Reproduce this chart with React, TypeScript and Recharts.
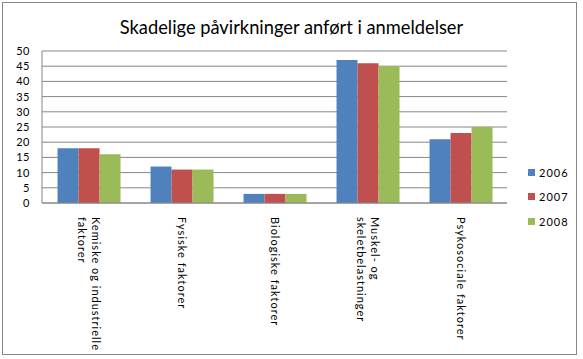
import React from 'react';
import { BarChart, Bar, XAxis, YAxis, CartesianGrid } from 'recharts';

const categories = [
  'Kemiske og industrielle faktorer',
  'Fysiske faktorer',
  'Biologiske faktorer',
  'Muskel- og skeletbelastninger',
  'Psykosociale faktorer',
];
const categoryLines = [
  ['Kemiske og industrielle', 'faktorer'],
  ['Fysiske faktorer'],
  ['Biologiske faktorer'],
  ['Muskel- og', 'skeletbelastninger'],
  ['Psykosociale faktorer'],
];
const values2006 = [18, 12, 3, 47, 21];
const values2007 = [18, 11, 3, 46, 23];
const values2008 = [16, 11, 3, 45, 25];
const yTicks = [0, 5, 10, 15, 20, 25, 30, 35, 40, 45, 50];
const seriesNames = ['2006', '2007', '2008'];
const seriesColors = ['#4F81BD', '#C0504D', '#9BBB59'];
const title = 'Skadelige påvirkninger anført i anmeldelser';

const data = categories.map((c, i) => ({
  name: c,
  '2006': values2006[i],
  '2007': values2007[i],
  '2008': values2008[i],
}));

const FONT = 'Lato, "Open Sans", sans-serif';

const XTick = (props: any) => {
  const { x, y, index } = props;
  const lines = categoryLines[index] || [];
  const lh = 14;
  const n = lines.length;
  return (
    <g transform={`translate(${x},${y})`}>
      <text
        transform="rotate(90)"
        textAnchor="start"
        fontSize={11}
        fontFamily={FONT}
        fill="#000"
        style={{ letterSpacing: '1px' }}
      >
        {lines.map((l, i) => (
          <tspan key={i} x={0} y={(i - (n - 1) / 2) * lh} dy="0.35em">
            {l}
          </tspan>
        ))}
      </text>
    </g>
  );
};

export default function App() {
  return (
    <div style={{ position: 'absolute', left: 0, top: 0, width: 583, height: 359, background: '#fff' }}>
      <div
        style={{
          position: 'absolute',
          left: 2,
          top: 2,
          width: 575,
          height: 353,
          border: '1px solid #868686',
          boxSizing: 'border-box',
        }}
      />
      <div
        style={{
          position: 'absolute',
          left: 0,
          top: 15,
          width: 583,
          textAlign: 'center',
          fontFamily: FONT,
          fontSize: 18.3,
          color: '#000',
          lineHeight: '24px',
        }}
      >
        {title}
      </div>
      <div style={{ position: 'absolute', left: 0, top: 0 }}>
        <BarChart
          width={583}
          height={359}
          data={data}
          margin={{ top: 51, right: 76, left: 0, bottom: 0 }}
          barCategoryGap="16.7%"
          barGap={0}
        >
          <CartesianGrid vertical={false} stroke="#868686" strokeWidth={1} />
          <XAxis
            dataKey="name"
            height={156}
            interval={0}
            tickLine={false}
            tickSize={0}
            tickMargin={14}
            axisLine={{ stroke: '#868686' }}
            tick={<XTick />}
          />
          <YAxis
            width={42}
            domain={[0, 50]}
            ticks={yTicks}
            interval={0}
            tickLine={false}
            tickSize={6}
            tickMargin={6}
            axisLine={{ stroke: '#868686' }}
            tick={{ fontSize: 11, fontFamily: FONT, fill: '#000', style: { letterSpacing: '0.5px' } }}
          />
          {seriesNames.map((s, i) => (
            <Bar key={s} dataKey={s} fill={seriesColors[i]} isAnimationActive={false} />
          ))}
        </BarChart>
      </div>
      {seriesNames.map((s, i) => (
        <div
          key={s}
          style={{
            position: 'absolute',
            left: 528,
            top: 165 + i * 24.5,
            height: 14,
            display: 'flex',
            alignItems: 'center',
            fontFamily: FONT,
            fontSize: 11,
            letterSpacing: '1px',
            color: '#000',
            whiteSpace: 'nowrap',
          }}
        >
          <span style={{ display: 'inline-block', width: 7, height: 7, background: seriesColors[i], marginRight: 4 }} />
          {s}
        </div>
      ))}
    </div>
  );
}
